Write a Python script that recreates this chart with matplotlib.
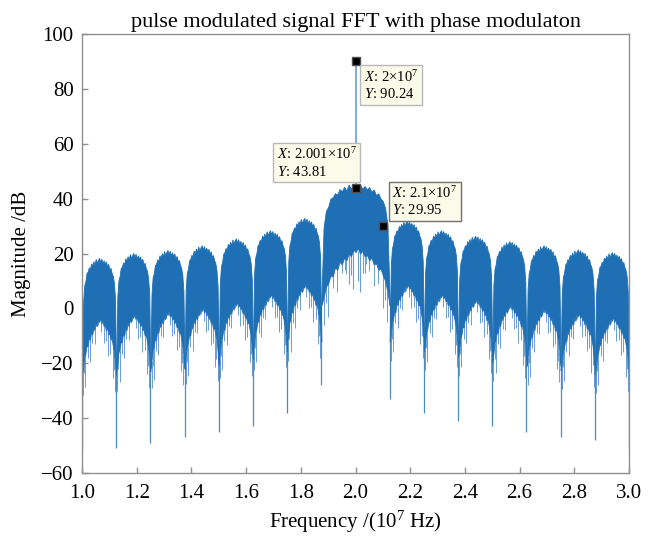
import matplotlib
matplotlib.use('Agg')
import matplotlib.pyplot as plt
import numpy as np

# nulls of the spectrum (1e7 Hz) and how deep the spike goes there (dB)
null_freq = [1.0, 1.125, 1.25, 1.375, 1.5, 1.625, 1.75, 1.875,
             2.125, 2.25, 2.375, 2.5, 2.625, 2.75, 2.875, 3.0]
null_depth = [-52, -51, -49, -47, -45, -43, -38, -28,
              -33, -38, -41, -43, -45, -47, -48, -51]

# one lobe between each pair of nulls: top spike level and centre floor (dB)
lobe_peak = [18.4, 20.2, 21.3, 23.0, 25.5, 28.5, 33.0, 45.5,
             32.0, 28.5, 26.5, 24.5, 23.0, 21.5, 20.5]
lobe_floor = [-4.5, -3.0, -2.0, -0.5, 1.5, 4.5, 8.0, 21.0,
              8.0, 4.5, 2.5, 0.5, -1.0, -2.5, -4.0]

# lobe outline, 31 steps across a lobe
top_off = [-43, -16, -10, -8.5, -5.5, -5, -3.5, -4, -2, -2.8, -1.2, -2.5, -0.4, -1.8, -0.8, 0,
           -1.5, -0.3, -1.9, -0.9, -2.2, -1.3, -3, -2.2, -4.2, -3.6, -5.5, -6.5, -9, -15, -43]
bot_off = [-20, -17, -13, -12, -9, -9.5, -6, -7, -4, -5, -2.5, -3.5, -1, -2, 0.5, -0.5,
           1, -1, 0, -2, -1.5, -3.5, -2.5, -5, -4.5, -7, -6.5, -9, -11, -15, -20]

# faint lines hanging under each lobe (step index, length in dB)
light_idx = [1, 2, 3, 5, 7, 9, 11, 14, 17, 19, 21, 23, 25, 27, 28, 29]
light_len = [10, 6, 12, 4, 8, 3, 5, 2, 3, 6, 4, 8, 5, 12, 7, 11]

# faint lines in the hole of the main lobe
main_light_f = [1.962, 1.975, 1.985, 1.992, 2.008, 2.016, 2.026, 2.04]
main_light_low = [14, 9, 12, 7, 10, 6, 13, 16]

# data tips
tip_x = [2.0, 2.001, 2.1]
tip_y = [90.24, 43.81, 29.95]
tip_text = [r'$X$: 2×10$^{7}$' + '\n' + r'$Y$: 90.24',
            r'$X$: 2.001×10$^{7}$' + '\n' + r'$Y$: 43.81',
            r'$X$: 2.1×10$^{7}$' + '\n' + r'$Y$: 29.95']

plt.rcParams['font.family'] = ['Liberation Serif', 'DejaVu Serif']
plt.rcParams['mathtext.fontset'] = 'custom'
plt.rcParams['mathtext.it'] = 'Liberation Serif:italic'
plt.rcParams['mathtext.rm'] = 'Liberation Serif'

blue = '#1f6fb4'
light = '#6a9fd2'

fig = plt.figure(figsize=(6.57, 5.38), dpi=100)
ax = fig.add_axes([0.1248, 0.1208, 0.8326, 0.816])

steps = np.arange(len(top_off)) / (len(top_off) - 1)
top_off = np.array(top_off)
bot_off = np.array(bot_off)

for i in range(len(lobe_peak)):
    a, b = null_freq[i], null_freq[i + 1]
    x = a + steps * (b - a)
    top = lobe_peak[i] + top_off
    bot = lobe_floor[i] + bot_off
    bot = np.minimum(bot, top)
    ax.fill_between(x, bot, top, color=blue, lw=0.6, zorder=2)
    for k, ln in zip(light_idx, light_len):
        ax.vlines(x[k], bot[k] - ln, bot[k], color=light, lw=0.7, zorder=1)

# spikes down at the nulls
for k, f in enumerate(null_freq):
    tops = []
    if k > 0:
        tops.append(lobe_floor[k - 1] + bot_off[-1])
    if k < len(lobe_peak):
        tops.append(lobe_floor[k] + bot_off[0])
    ax.vlines(f, null_depth[k], max(tops), color=blue, lw=0.9, alpha=0.8, zorder=1)

ax.vlines(main_light_f, main_light_low, lobe_floor[7], color=light, lw=0.8, zorder=1)

# carrier line
ax.vlines(tip_x[0], lobe_peak[7], tip_y[0], color=light, lw=1.2, zorder=2)

ax.plot(tip_x, tip_y, ls='none', marker='s', ms=6, mfc='black', mec='#505050', zorder=5)

box_pos = [(2.031, 87.3), (1.712, 59.0), (2.134, 44.9)]
box_edge = ['#b8b8b8', '#b8b8b8', '#707070']
for (bx, by), txt, ec in zip(box_pos, tip_text, box_edge):
    ax.text(bx, by, txt, ha='left', va='top', fontsize=10.5, linespacing=1.2, zorder=6,
            bbox=dict(boxstyle='square,pad=0.25', fc='#fbfbea', ec=ec, lw=1.0))

ax.set_xlim(1.0, 3.0)
ax.set_ylim(-60, 100)
ax.set_xticks(np.arange(1.0, 3.01, 0.2))
ax.set_xticklabels(['%.1f' % v for v in np.arange(1.0, 3.01, 0.2)])
ax.set_yticks(np.arange(-60, 101, 20))
for s in ax.spines.values():
    s.set_color('#8f8f8f')
    s.set_linewidth(1.0)
ax.tick_params(direction='in', length=4, width=1, color='#8f8f8f', labelsize=15)
ax.tick_params(axis='x', pad=8)
ax.tick_params(axis='y', pad=6)

ax.set_title('pulse modulated signal FFT with phase modulaton', fontsize=16, pad=5)
ax.set_xlabel('Frequency /(10$^{7}$ Hz)', fontsize=15, labelpad=4)
ax.set_ylabel('Magnitude /dB', fontsize=15, labelpad=7)

fig.savefig('out.png', dpi=100)
